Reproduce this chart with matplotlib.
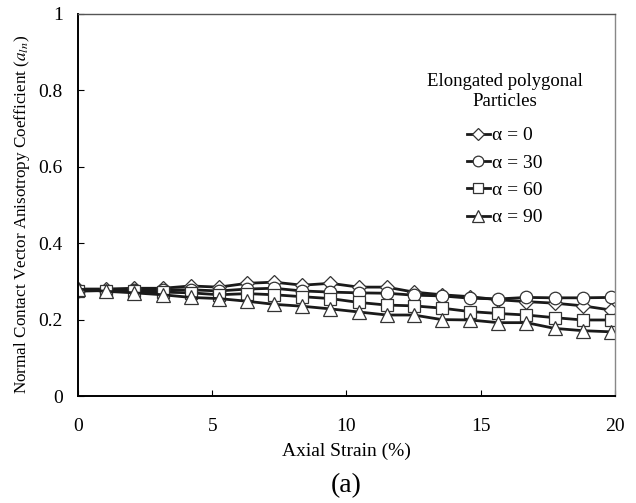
import numpy as np
import matplotlib.pyplot as plt

plt.rcParams['font.family'] = ['Liberation Serif', 'DejaVu Serif']
plt.rcParams['mathtext.fontset'] = 'stix'

strain = [0, 1.05, 2.1, 3.15, 4.2, 5.25, 6.3, 7.3, 8.35, 9.4,
          10.45, 11.5, 12.5, 13.55, 14.6, 15.65, 16.7, 17.75, 18.8, 19.85]

a0 = [0.280, 0.280, 0.282, 0.282, 0.288, 0.285, 0.295, 0.298, 0.290, 0.295,
      0.285, 0.285, 0.272, 0.265, 0.260, 0.252, 0.247, 0.243, 0.236, 0.225]
a30 = [0.275, 0.276, 0.278, 0.278, 0.278, 0.275, 0.280, 0.282, 0.275, 0.272,
       0.270, 0.269, 0.264, 0.262, 0.256, 0.254, 0.258, 0.257, 0.257, 0.258]
a60 = [0.275, 0.276, 0.274, 0.272, 0.270, 0.265, 0.268, 0.265, 0.260, 0.255,
       0.245, 0.238, 0.236, 0.230, 0.221, 0.216, 0.212, 0.205, 0.199, 0.199]
a90 = [0.280, 0.274, 0.270, 0.265, 0.258, 0.255, 0.248, 0.240, 0.235, 0.228,
       0.220, 0.212, 0.212, 0.200, 0.199, 0.192, 0.192, 0.177, 0.171, 0.168]

series = [(a0, 'D', 'α = 0', 7),
          (a30, 'o', 'α = 30', 9),
          (a60, 's', 'α = 60', 9),
          (a90, '^', 'α = 90', 10)]

fig = plt.figure(figsize=(6.36, 5.03), dpi=100)
ax = fig.add_axes([0.1226, 0.2127, 0.8444, 0.7596])

for vals, mk, lab, ms in series:
    ax.plot(strain, vals, color='#1a1a1a', lw=2, marker=mk, ms=ms,
            mfc='white', mec='#333333', mew=0.9, label=lab)

ax.set_xlim(0, 20)
ax.set_ylim(0, 1)
ax.set_xticks([0, 5, 10, 15, 20])
ax.set_yticks([0, 0.2, 0.4, 0.6, 0.8, 1])
ax.set_yticklabels(['0', '0.2', '0.4', '0.6', '0.8', '1'])
ax.tick_params(direction='in', labelsize=14, length=4)
ax.tick_params(axis='x', pad=16)
ax.tick_params(axis='y', pad=11)
for s in ax.spines.values():
    s.set_linewidth(1.0)
ax.spines['left'].set_linewidth(1.4)
ax.spines['bottom'].set_linewidth(1.4)
ax.spines['top'].set_color('#555555')
ax.spines['right'].set_color('#888888')

ax.set_xlabel('Axial Strain (%)', fontsize=14, va='center')
ax.xaxis.set_label_coords(0.5, -0.144)
ax.set_ylabel(r'Normal Contact Vector Anisotropy Coefficient ($a_{ln}$)',
              fontsize=12.3, va='center')
ax.yaxis.set_label_coords(-0.104, 0.474)

leg = ax.legend(title='Elongated polygonal\nParticles', loc='upper right',
                bbox_to_anchor=(0.972, 0.89), frameon=False, fontsize=14,
                title_fontsize=13.5, handlelength=1.2, handletextpad=0.1,
                labelspacing=0.5, markerscale=0.85)
leg.get_title().set_multialignment('center')
leg._legend_box.align = 'center'
leg._legend_box.sep = 12

fig.text(0.545, 0.035, '(a)', fontsize=20, ha='center', va='center')

fig.savefig('out.png', dpi=100)
